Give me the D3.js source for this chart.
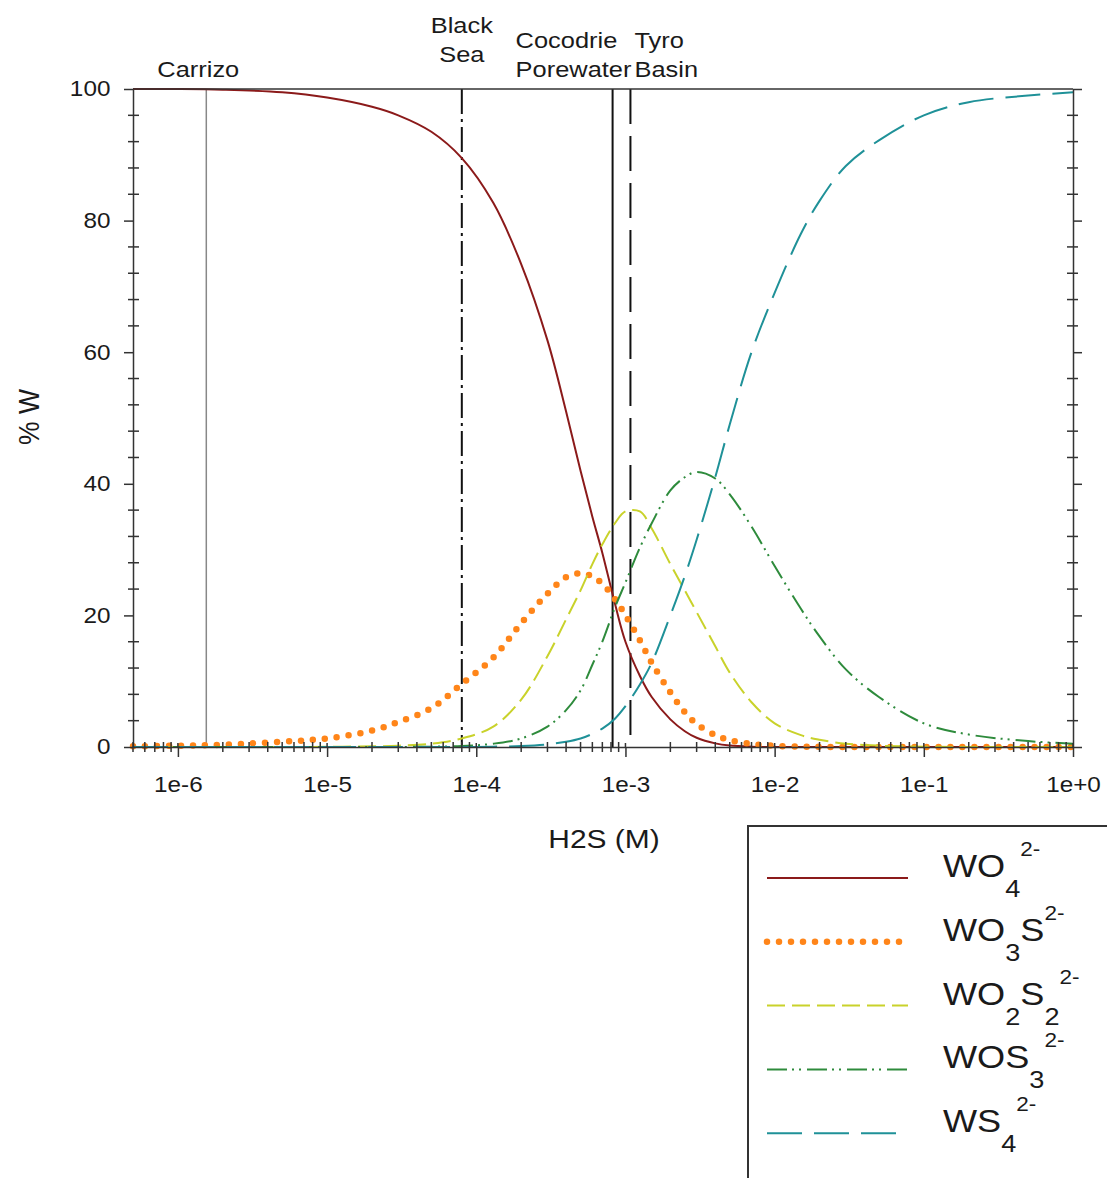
<!DOCTYPE html>
<html>
<head>
<meta charset="utf-8">
<script src="https://cdn.jsdelivr.net/npm/d3@7"></script>
<style>
    body { margin: 0; background: #fff; }
    svg text { font-family: "Liberation Sans", Arial, sans-serif; fill: #1a1a1a; }
</style>
</head>
<body>
<svg id="chart" width="1107" height="1178"></svg>
<script>
// H2S concentration (M), shared by every species
const h2s = [5e-7, 1e-6, 2e-6, 5e-6, 1e-5, 2e-5, 3e-5, 5e-5, 8e-5, 1.3e-4, 2e-4, 3e-4, 4e-4, 5e-4, 6e-4, 7e-4,
    8.5e-4, 1e-3, 1.25e-3, 1.5e-3, 2e-3, 2.5e-3, 3e-3, 4e-3, 5e-3, 7e-3, 1e-2, 1.5e-2, 2e-2, 3e-2, 5e-2, 1e-1, 2e-1, 5e-1, 1];

// % W for each species
const wo4 = [100, 100, 99.9, 99.5, 98.7, 97.3, 96, 93.5, 89.5, 82.7, 73.4, 61.8, 51, 42, 35, 29.5,
    21.8, 16, 10.8, 7.6, 4.2, 2.4, 1.4, 0.55, 0.22, 0.05, 0, 0, 0, 0, 0, 0, 0, 0, 0];
const wo3s = [0.1, 0.2, 0.35, 0.8, 1.3, 2.5, 3.8, 5.9, 9.6, 13.6, 18.8, 23.3, 25.8, 26.4, 25.9, 24.8,
    22.5, 20, 16.2, 12.8, 8.3, 5.3, 3.5, 1.8, 1.05, 0.45, 0.18, 0.07, 0.03, 0, 0, 0, 0, 0, 0];
const wo2s2 = [0, 0, 0, 0, 0.03, 0.1, 0.2, 0.5, 1.3, 3.1, 7.2, 13.8, 19.4, 23.8, 27.8, 30.8,
    34, 35.8, 35.8, 33.2, 27.8, 23.8, 20.5, 15.3, 11.3, 6.8, 3.6, 1.8, 1.1, 0.5, 0.2, 0.05, 0, 0, 0];
const wos3 = [0, 0, 0, 0, 0, 0, 0.01, 0.05, 0.15, 0.5, 1.3, 3.1, 5.6, 8.6, 12.5, 16,
    21.2, 25, 30.3, 34, 39, 41, 41.8, 40.8, 38.4, 33.5, 27.5, 21, 16.8, 11.8, 7.6, 3.6, 1.9, 0.9, 0.5];
const ws4 = [0, 0, 0, 0, 0, 0, 0, 0, 0, 0.05, 0.15, 0.4, 0.8, 1.3, 2.0, 2.8,
    4.3, 6.2, 9.5, 12.8, 20, 26, 31.5, 41, 49, 60, 69, 78, 83, 88.3, 92.2, 96, 98, 99, 99.5];

const speciesKeys = ["wo4", "wo3s", "wo2s2", "wos3", "ws4"];
const speciesValues = [wo4, wo3s, wo2s2, wos3, ws4];

// reference sites (H2S in M) with their labels
const refH2S = [1.55e-6, 8e-5, 8.2e-4, 1.08e-3];
const refLabels = [["Carrizo"], ["Black", "Sea"], ["Cocodrie", "Porewater"], ["Tyro", "Basin"]];

// axis ticks
const xTicks = [1e-6, 1e-5, 1e-4, 1e-3, 1e-2, 1e-1, 1];
const xTickLabels = ["1e-6", "1e-5", "1e-4", "1e-3", "1e-2", "1e-1", "1e+0"];
const yTicks = [0, 20, 40, 60, 80, 100];
const yTickLabels = ["0", "20", "40", "60", "80", "100"];

const svg = d3.select("svg#chart"),
    margin = {top: 89, right: 34, bottom: 431, left: 133},
    width = +svg.attr("width"),
    height = +svg.attr("height");
const stretch = 1.13; // the source type is a bit wider than Liberation Sans

let xScale = d3.scaleLog()
    .domain([5e-7, 1])
    .range([margin.left, width - margin.right]);
let yScale = d3.scaleLinear()
    .domain([0, 100])
    .range([height - margin.bottom, margin.top]);

const x0 = xScale.range()[0], x1 = xScale.range()[1];
const yBot = yScale(0), yTop = yScale(100);
const axisColor = "#333";

// line styles for species and reference lines
const styles = {
    wo4: {color: "#8b1a1a", width: 2, dash: null},
    wo3s: {color: "#ff8519", width: 6.5, dash: "0,12", cap: "round"},
    wo2s2: {color: "#c9d22b", width: 2, dash: "18,7"},
    wos3: {color: "#2e8b3c", width: 2, dash: "20,5,2,5,2,6"},
    ws4: {color: "#1f9198", width: 2, dash: "35,12"}
};
const refStyles = [
    {color: "#888", width: 1.5, dash: null, anchor: "middle", dx: -8, base: [77]},
    {color: "#111", width: 2, dash: "25,5,3,5", anchor: "middle", dx: 0, base: [33, 62]},
    {color: "#111", width: 2, dash: null, anchor: "start", dx: -97, base: [48, 77]},
    {color: "#111", width: 2, dash: "35,12", anchor: "start", dx: 4, base: [48, 77]}
];

// ---------- reference lines ----------
let refG = svg.append("g").attr("id", "refs");
refH2S.forEach(function (v, i) {
    let s = refStyles[i];
    refG.append("line")
        .attr("x1", xScale(v)).attr("x2", xScale(v))
        .attr("y1", yTop).attr("y2", yBot)
        .attr("stroke", s.color)
        .attr("stroke-width", s.width)
        .attr("stroke-dasharray", s.dash);
    refLabels[i].forEach(function (t, j) {
        refG.append("text")
            .attr("transform", "translate(" + (xScale(v) + s.dx) + "," + s.base[j] + ") scale(" + stretch + ",1)")
            .attr("text-anchor", s.anchor)
            .style("font-size", "22.5px")
            .text(t);
    });
});

// ---------- curves ----------
let line = d3.line()
    .x(function (d) { return xScale(d[0]); })
    .y(function (d) { return yScale(Math.max(0, d[1])); })
    .curve(d3.curveCatmullRom.alpha(0.5));

let curveG = svg.append("g").attr("id", "curves");
speciesKeys.forEach(function (k, i) {
    let s = styles[k];
    curveG.append("path")
        .datum(h2s.map(function (h, j) { return [h, speciesValues[i][j]]; }))
        .attr("d", line)
        .attr("fill", "none")
        .attr("stroke", s.color)
        .attr("stroke-width", s.width)
        .attr("stroke-dasharray", s.dash)
        .attr("stroke-linecap", s.cap || "butt");
});

// ---------- axes ----------
let xAxis = d3.axisBottom(xScale)
    .tickValues(xTicks)
    .tickFormat(function (d, i) { return xTickLabels[i]; })
    .tickSize(10).tickSizeOuter(0).tickPadding(20);
let xg = svg.append("g")
    .attr("transform", "translate(0," + yBot + ")")
    .call(xAxis);
xg.selectAll("text").attr("transform", "scale(" + stretch + ",1)").style("font-size", "21.5px");

let yAxis = d3.axisLeft(yScale)
    .tickValues(yTicks)
    .tickFormat(function (d, i) { return yTickLabels[i]; })
    .tickSize(9).tickSizeOuter(0).tickPadding(11);
let yg = svg.append("g")
    .attr("transform", "translate(" + x0 + ",0)")
    .call(yAxis);
yg.selectAll("text").attr("transform", "scale(" + stretch + ",1)").style("font-size", "21.5px");

let yAxisR = d3.axisRight(yScale)
    .tickValues(yTicks)
    .tickFormat("")
    .tickSize(9).tickSizeOuter(0);
let yrg = svg.append("g")
    .attr("transform", "translate(" + x1 + ",0)")
    .call(yAxisR);

[xg, yg, yrg].forEach(function (g) {
    g.selectAll("path.domain, .tick line").attr("stroke", axisColor).attr("stroke-width", 1.5);
    g.selectAll("text").style("fill", "#1a1a1a").style("font-family", "'Liberation Sans', Arial, sans-serif");
});

// top frame line
svg.append("line")
    .attr("x1", x0).attr("x2", x1).attr("y1", yTop).attr("y2", yTop)
    .attr("stroke", axisColor).attr("stroke-width", 1.5);

// minor ticks, crossing the axis lines
let minorG = svg.append("g").attr("stroke", axisColor).attr("stroke-width", 1.5);
xScale.ticks().filter(function (d) { return xTicks.indexOf(d) < 0; }).forEach(function (d) {
    minorG.append("line")
        .attr("x1", xScale(d)).attr("x2", xScale(d))
        .attr("y1", yBot - 5).attr("y2", yBot + 5);
});
xTicks.forEach(function (d) {
    minorG.append("line")
        .attr("x1", xScale(d)).attr("x2", xScale(d))
        .attr("y1", yBot - 4).attr("y2", yBot);
});
d3.range(0, 101, 4).filter(function (d) { return d % 20 !== 0; }).forEach(function (d) {
    minorG.append("line").attr("x1", x0 - 5).attr("x2", x0 + 6).attr("y1", yScale(d)).attr("y2", yScale(d));
    minorG.append("line").attr("x1", x1 - 6).attr("x2", x1 + 5).attr("y1", yScale(d)).attr("y2", yScale(d));
});

// axis titles
svg.append("text")
    .attr("transform", "translate(604,848) scale(" + stretch + ",1)")
    .attr("text-anchor", "middle")
    .style("font-size", "26.5px")
    .text("H2S (M)");
svg.append("text")
    .attr("transform", "translate(39,417) scale(" + stretch + ",1) rotate(-90)")
    .attr("text-anchor", "middle")
    .style("font-size", "26.5px")
    .text("% W");

// ---------- legend ----------
// each name as [text, kind] parts: n = normal, b = subscript, p = superscript
const legendNames = [
    [["WO", "n"], ["4", "b"], ["2-", "p"]],
    [["WO", "n"], ["3", "b"], ["S", "n"], ["2-", "p"]],
    [["WO", "n"], ["2", "b"], ["S", "n"], ["2", "b"], ["2-", "p"]],
    [["WOS", "n"], ["3", "b"], ["2-", "p"]],
    [["WS", "n"], ["4", "b"], ["2-", "p"]]
];

let legend = svg.append("g").attr("id", "legend");
legend.append("rect")
    .attr("x", 748).attr("y", 826)
    .attr("width", 500).attr("height", 500)
    .attr("fill", "none")
    .attr("stroke", axisColor)
    .attr("stroke-width", 2);

const rowH = 63.8, row0 = 878;
speciesKeys.forEach(function (k, i) {
    let s = styles[k];
    let yy = row0 + i * rowH;
    legend.append("line")
        .attr("x1", 767).attr("x2", k === "wo3s" ? 910 : 908)
        .attr("y1", yy).attr("y2", yy)
        .attr("stroke", s.color)
        .attr("stroke-width", s.width)
        .attr("stroke-dasharray", s.dash)
        .attr("stroke-linecap", s.cap || "butt");

    let t = legend.append("text")
        .attr("transform", "translate(943," + (yy - 1) + ") scale(" + stretch + ",1)");
    let level = 0; // current baseline offset
    legendNames[i].forEach(function (p) {
        let target = p[1] === "b" ? 20 : (p[1] === "p" ? -21 : 0);
        t.append("tspan")
            .attr("dy", target - level)
            .style("font-size", p[1] === "n" ? "32px" : (p[1] === "b" ? "24px" : "20px"))
            .text(p[0]);
        level = target;
    });
});
</script>
</body>
</html>
